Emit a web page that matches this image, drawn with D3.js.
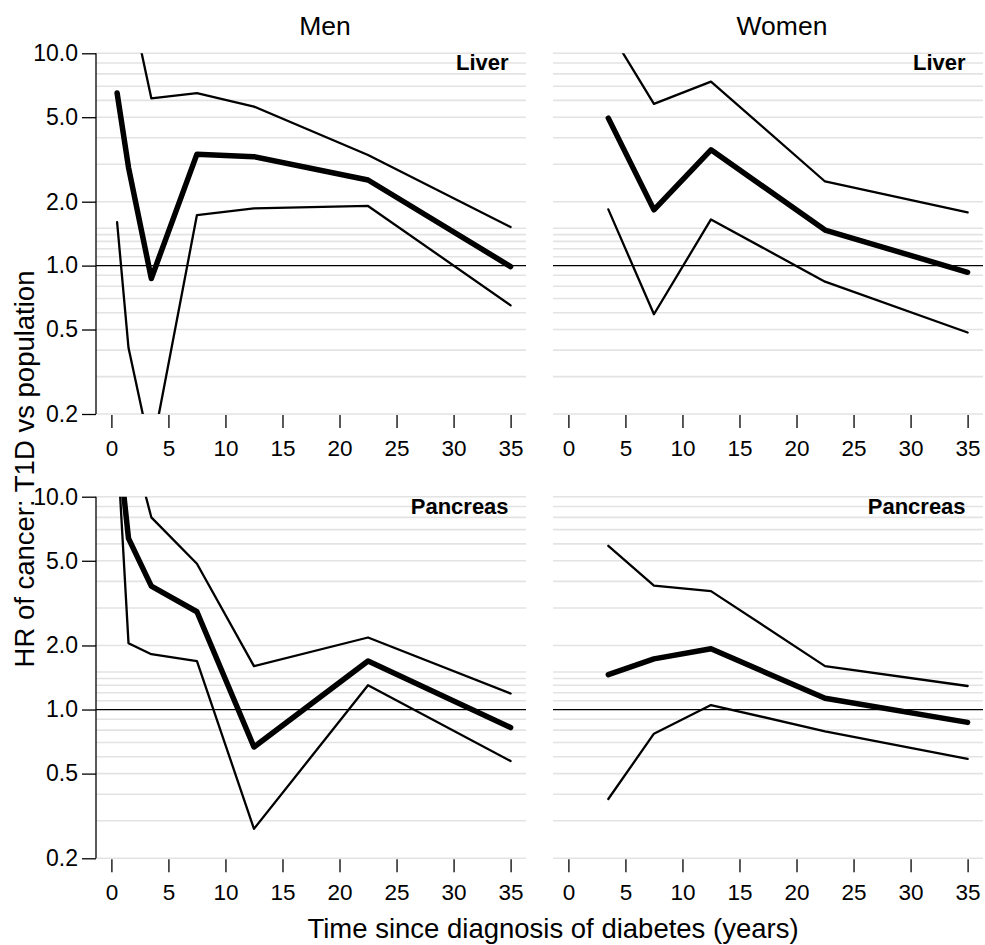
<!DOCTYPE html>
<html>
<head>
<meta charset="utf-8">
<script src="https://cdn.jsdelivr.net/npm/d3@7"></script>
<style>
  body { margin: 0; background: #fff; }
  text { font-family: "Liberation Sans", Arial, sans-serif; fill: #000; }
</style>
</head>
<body>
<div id="chart"></div>
<script>
// time points (years since diagnosis)
var tMen = [0.5, 1.5, 3.5, 7.5, 12.5, 22.5, 35];
var tWomen = [3.5, 7.5, 12.5, 22.5, 35];

// liver
var menLiverHR = [6.5, 2.9, 0.87, 3.35, 3.26, 2.53, 0.99];
var menLiverLo = [1.6, 0.41, 0.13, 1.73, 1.86, 1.91, 0.65];
var menLiverHi = [60, 19.5, 6.14, 6.49, 5.61, 3.32, 1.52];
var womenLiverHR = [4.95, 1.83, 3.51, 1.47, 0.93];
var womenLiverLo = [1.84, 0.59, 1.65, 0.84, 0.484];
var womenLiverHi = [13, 5.78, 7.36, 2.49, 1.78];

// pancreas
var menPancHR = [20, 6.37, 3.8, 2.88, 0.667, 1.69, 0.823];
var menPancLo = [18, 2.05, 1.82, 1.69, 0.275, 1.3, 0.573];
var menPancHi = [100, 20.5, 8.0, 4.84, 1.6, 2.18, 1.19];
var womenPancHR = [1.46, 1.73, 1.93, 1.13, 0.87];
var womenPancLo = [0.38, 0.77, 1.05, 0.79, 0.586];
var womenPancHi = [5.88, 3.82, 3.6, 1.6, 1.29];

var xTicks = [0, 5, 10, 15, 20, 25, 30, 35];
var yTicks = [0.2, 0.5, 1, 2, 5, 10];
var yTickLabels = ["0.2", "0.5", "1.0", "2.0", "5.0", "10.0"];
var gridVals = [0.2, 0.3, 0.4, 0.5, 0.6, 0.7, 0.8, 0.9, 1.1, 1.2, 1.3, 1.4, 1.5, 2, 3, 4, 5, 6, 7, 8, 9, 10];
var sexTitles = ["Men", "Women"];

var width = 985, height = 945;

var svg = d3.select("#chart")
    .append("svg")
    .attr("width", width)
    .attr("height", height);

// panel positions
var colRange = [[96, 526], [553, 983]];
var rowRange = [[414, 53.3], [858.3, 496.7]];

var panels = [
    {col: 0, row: 0, t: tMen, hr: menLiverHR, lo: menLiverLo, hi: menLiverHi, name: "Liver"},
    {col: 1, row: 0, t: tWomen, hr: womenLiverHR, lo: womenLiverLo, hi: womenLiverHi, name: "Liver"},
    {col: 0, row: 1, t: tMen, hr: menPancHR, lo: menPancLo, hi: menPancHi, name: "Pancreas"},
    {col: 1, row: 1, t: tWomen, hr: womenPancHR, lo: womenPancLo, hi: womenPancHi, name: "Pancreas"}
];

panels.forEach(function(p, i) {
    var x = d3.scaleLinear()
        .domain([-1.35, 36.35])
        .range(colRange[p.col]);
    var y = d3.scaleLog()
        .domain([0.2, 10])
        .range(rowRange[p.row]);

    var g = svg.append("g");

    // light grid lines
    g.selectAll("line.grid")
        .data(gridVals)
        .enter()
        .append("line")
        .attr("x1", x.range()[0])
        .attr("x2", x.range()[1])
        .attr("y1", d => y(d))
        .attr("y2", d => y(d))
        .style("stroke", "#e3e3e3")
        .style("stroke-width", 1.6);

    // reference line at HR = 1
    g.append("line")
        .attr("x1", x.range()[0])
        .attr("x2", x.range()[1])
        .attr("y1", y(1))
        .attr("y2", y(1))
        .style("stroke", "#000")
        .style("stroke-width", 1.2);

    // clip to the plotting area
    var clipId = "clip" + i;
    svg.append("clipPath")
        .attr("id", clipId)
        .append("rect")
        .attr("x", x.range()[0])
        .attr("y", y(10))
        .attr("width", x.range()[1] - x.range()[0])
        .attr("height", y(0.2) - y(10));

    var line = d3.line()
        .x(d => x(d[0]))
        .y(d => y(d[1]));

    var series = [
        {vals: p.lo, w: 2.3},
        {vals: p.hi, w: 2.3},
        {vals: p.hr, w: 5.5}
    ];
    g.append("g")
        .attr("clip-path", "url(#" + clipId + ")")
        .selectAll("path")
        .data(series)
        .enter()
        .append("path")
        .attr("d", s => line(p.t.map((t, k) => [t, s.vals[k]])))
        .style("fill", "none")
        .style("stroke", "#000")
        .style("stroke-width", s => s.w)
        .style("stroke-linejoin", "round")
        .style("stroke-linecap", "round");

    // x axis: ticks only, no domain line
    var xAxis = g.append("g")
        .attr("transform", "translate(0," + (y(0.2) + 1) + ")")
        .call(d3.axisBottom(x).tickValues(xTicks).tickSize(13).tickPadding(12).tickFormat(d3.format("d")));
    xAxis.select(".domain").remove();
    xAxis.selectAll("line").style("stroke-width", 1.3);
    xAxis.selectAll("text").style("font-size", "22.5px");

    // y axis on the left column only
    if (p.col === 0) {
        var yAxis = g.append("g")
            .attr("transform", "translate(" + x.range()[0] + ",0)")
            .call(d3.axisLeft(y).tickValues(yTicks).tickSize(14).tickPadding(4)
                .tickFormat((d, k) => yTickLabels[k]));
        yAxis.select(".domain")
            .attr("d", "M0," + y(0.2) + "V" + y(10))
            .style("stroke-width", 1.3);
        yAxis.selectAll("line").style("stroke-width", 1.3);
        yAxis.selectAll("text").style("font-size", "23px");
    }

    // cancer site label
    g.append("text")
        .attr("x", x(35) - 2)
        .attr("y", y(10) + 17)
        .attr("text-anchor", "end")
        .style("font-size", "22px")
        .style("font-weight", "bold")
        .text(p.name);

    if (p.row === 0) {
        g.append("text")
            .attr("x", (x.range()[0] + x.range()[1]) / 2 + 14)
            .attr("y", 35)
            .attr("text-anchor", "middle")
            .style("font-size", "26.5px")
            .text(sexTitles[p.col]);
    }
});

// axis titles
svg.append("text")
    .attr("x", 553)
    .attr("y", 938)
    .attr("text-anchor", "middle")
    .style("font-size", "27.5px")
    .text("Time since diagnosis of diabetes (years)");

svg.append("text")
    .attr("transform", "translate(33.5,469) rotate(-90)")
    .attr("text-anchor", "middle")
    .style("font-size", "27.5px")
    .text("HR of cancer: T1D vs population");
</script>
</body>
</html>
